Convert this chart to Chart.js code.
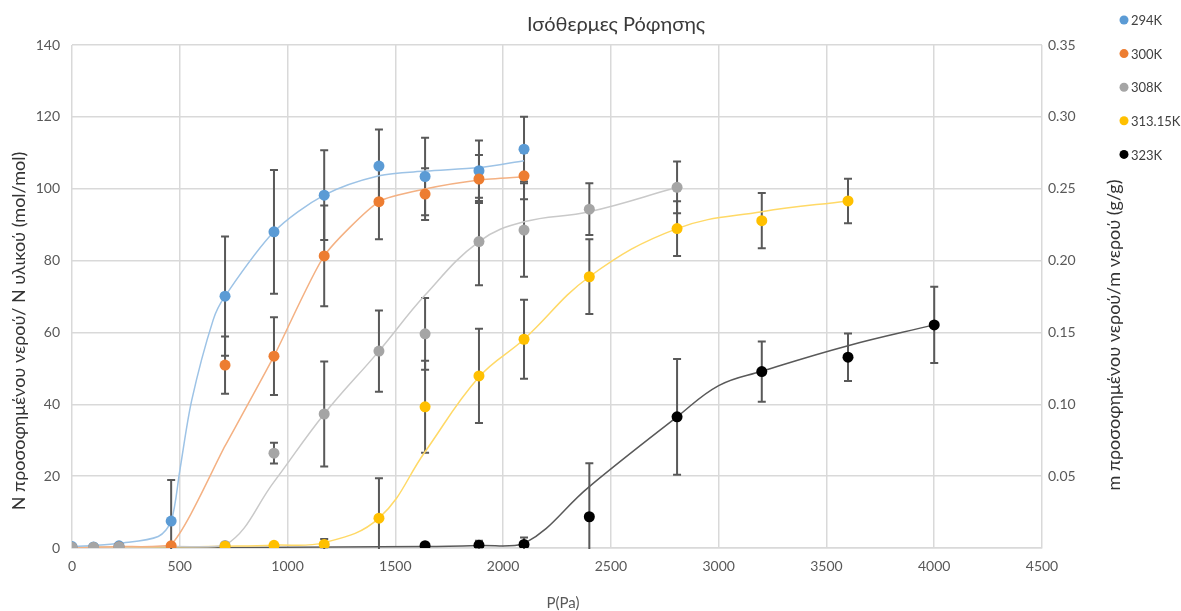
<!DOCTYPE html>
<html>
<head>
<meta charset="utf-8">
<script src="https://cdn.jsdelivr.net/npm/chart.js@4"></script>
<style>
  body { margin: 0; background: #fff; }
</style>
</head>
<body>
<canvas id="chart" width="1181" height="611"></canvas>
<script>
// pressures (Pa) for each isotherm
const p294 = [0, 100, 218, 460, 710, 937, 1170, 1424, 1638, 1888, 2097];
const p300 = [0, 100, 218, 460, 710, 937, 1170, 1424, 1638, 1888, 2097];
const p308 = [0, 100, 218, 710, 937, 1170, 1424, 1638, 1888, 2097, 2400, 2807];
const p313 = [710, 937, 1170, 1424, 1638, 1888, 2097, 2400, 2807, 3200, 3600];
const p323 = [1638, 1888, 2097, 2400, 2807, 3200, 3600, 4000];

// measured uptake (mol/mol) and error (+/-)
const n294 = [0.4, 0.3, 0.6, 7.5, 70.1, 88.0, 98.2, 106.3, 103.4, 105.0, 111.0];
const e294 = [0, 0, 0, 11.4, 16.6, 17.2, 12.5, 10.2, 10.8, 8.4, 9.0];
const n300 = [0, 0, 0.3, 0.6, 50.9, 53.4, 81.3, 96.4, 98.5, 102.7, 103.6];
const e300 = [0, 0, 0, 0, 8.0, 10.8, 14.0, 10.5, 7.2, 6.7, 6.5];
const n308 = [0.2, 0.2, 0.3, 0.7, 26.4, 37.3, 54.8, 59.6, 85.3, 88.5, 94.3, 100.4];
const e308 = [0, 0, 0, 0, 2.9, 14.6, 11.3, 10.0, 12.2, 13.0, 7.2, 7.2];
const n313 = [0.5, 0.75, 1.0, 8.3, 39.3, 47.9, 58.1, 75.5, 88.9, 91.1, 96.6];
const e313 = [0, 0, 1.5, 11.1, 12.8, 13.1, 11.0, 10.4, 7.6, 7.7, 6.2];
const n323 = [0.65, 0.8, 1.0, 8.7, 36.5, 49.1, 53.1, 62.1];
const e323 = [0, 1.2, 1.9, 14.9, 16.1, 8.4, 6.6, 10.6];

// fitted isotherm curves
const fitP294 = [0, 100, 218, 400, 460, 500, 555, 655, 710, 937, 1170, 1424, 1638, 1888, 2097];
const fitN294 = [0.4, 0.7, 1.3, 3.2, 7.5, 21.5, 41, 63.5, 70.1, 88.0, 98.2, 103.6, 104.9, 105.9, 107.8];
const fitP300 = [0, 100, 218, 460, 710, 937, 1170, 1424, 1638, 1888, 2097];
const fitN300 = [0, 0.2, 0.4, 1.0, 28.4, 53.4, 81.3, 96.4, 99.9, 102.4, 103.3];
const fitP308 = [0, 100, 218, 460, 710, 937, 1170, 1424, 1638, 1888, 2097, 2400, 2807];
const fitN308 = [0.2, 0.2, 0.3, 0.4, 0.7, 18.4, 37.3, 54.8, 70.4, 85.3, 90.8, 93.6, 100.4];
const fitP313 = [0, 460, 710, 937, 1170, 1424, 1638, 1888, 2097, 2400, 2807, 3200, 3600];
const fitN313 = [0.2, 0.3, 0.5, 0.8, 1.5, 8.3, 26.8, 47.6, 58.1, 75.5, 88.9, 93.6, 96.6];
const fitP323 = [0, 1638, 1888, 2097, 2400, 2807, 3000, 3200, 3600, 4000];
const fitN323 = [0, 0.4, 0.7, 1.2, 17.1, 36.5, 45.2, 49.2, 56.3, 62.1];

const seriesNames = ['294K', '300K', '308K', '313.15K', '323K'];
const markerColors = ['#5B9BD5', '#ED7D31', '#A5A5A5', '#FFC000', '#000000'];
const fitColors = ['#9DC3E6', '#F4B183', '#C9C9C9', '#FFD966', '#595959'];

const FONT = 'Lato, "Noto Sans", sans-serif';

function pairs(xs, ys) {
  return xs.map((x, i) => ({ x: x, y: ys[i] }));
}

const points = [
  [p294, n294, e294],
  [p300, n300, e300],
  [p308, n308, e308],
  [p313, n313, e313],
  [p323, n323, e323]
];
const fits = [
  [fitP294, fitN294, 0.3],
  [fitP300, fitN300, 0.2],
  [fitP308, fitN308, 0.4],
  [fitP313, fitN313, 0.4],
  [fitP323, fitN323, 0.4]
];

const datasets = [];
fits.forEach((f, i) => {
  datasets.push({
    label: seriesNames[i] + ' fit',
    data: pairs(f[0], f[1]),
    showLine: true,
    borderColor: fitColors[i],
    borderWidth: 1.5,
    pointRadius: 0,
    tension: f[2],
    order: 10
  });
});
points.forEach((s, i) => {
  datasets.push({
    label: seriesNames[i],
    data: pairs(s[0], s[1]),
    errors: s[2],
    showLine: false,
    pointRadius: 5.5,
    pointBorderWidth: 0,
    backgroundColor: markerColors[i],
    borderColor: markerColors[i],
    order: 5 - i
  });
});

// vertical error bars with caps
const errorBars = {
  id: 'errorBars',
  beforeDatasetsDraw(chart) {
    const { ctx, chartArea, scales: { x, y } } = chart;
    ctx.save();
    ctx.beginPath();
    ctx.rect(chartArea.left, chartArea.top, chartArea.width, chartArea.height + 1);
    ctx.clip();
    ctx.strokeStyle = '#595959';
    ctx.lineWidth = 2;
    chart.data.datasets.forEach(ds => {
      if (!ds.errors) return;
      ds.data.forEach((pt, i) => {
        const e = ds.errors[i];
        if (!e) return;
        const px = x.getPixelForValue(pt.x);
        const top = y.getPixelForValue(pt.y + e);
        const bot = y.getPixelForValue(pt.y - e);
        ctx.beginPath();
        ctx.moveTo(px, top); ctx.lineTo(px, bot);
        ctx.moveTo(px - 4, top); ctx.lineTo(px + 4, top);
        ctx.moveTo(px - 4, bot); ctx.lineTo(px + 4, bot);
        ctx.stroke();
      });
    });
    ctx.restore();
  }
};

// title, axis titles and legend
const labels = {
  id: 'labels',
  afterDraw(chart) {
    const ctx = chart.ctx;
    ctx.save();
    ctx.textAlign = 'center';
    ctx.textBaseline = 'middle';

    ctx.fillStyle = '#3a3a3a';
    ctx.font = '20px ' + FONT;
    ctx.fillText('Ισόθερμες Ρόφησης', 616, 25);

    ctx.fillStyle = '#595959';
    ctx.font = '15px ' + FONT;
    ctx.fillText('P(Pa)', 563, 603);

    ctx.fillStyle = '#333333';
    ctx.font = '18px ' + FONT;
    ctx.save();
    ctx.translate(19, 331);
    ctx.rotate(-Math.PI / 2);
    ctx.fillText('N προσοφημένου νερού/ N υλικού (mol/mol)', 0, 0);
    ctx.restore();

    ctx.save();
    ctx.translate(1114, 335);
    ctx.rotate(-Math.PI / 2);
    ctx.fillText('m προσοφημένου νερού/m νερού (g/g)', 0, 0);
    ctx.restore();

    ctx.textAlign = 'left';
    ctx.font = '13px ' + FONT;
    seriesNames.forEach((name, i) => {
      const yy = 20 + i * 33.6;
      ctx.fillStyle = markerColors[i];
      ctx.beginPath();
      ctx.arc(1124, yy, 4.5, 0, Math.PI * 2);
      ctx.fill();
      ctx.fillStyle = '#404040';
      ctx.fillText(name, 1131, yy + 1);
    });
    ctx.restore();
  }
};

const tickFont = { family: FONT, size: 14 };

new Chart(document.getElementById('chart'), {
  type: 'scatter',
  data: { datasets: datasets },
  options: {
    responsive: false,
    animation: false,
    layout: { padding: { top: 45, right: 0, bottom: 0, left: 0 } },
    plugins: {
      legend: { display: false },
      title: { display: false },
      tooltip: { enabled: false }
    },
    scales: {
      x: {
        type: 'linear',
        min: 0,
        max: 4500,
        ticks: { stepSize: 500, color: '#595959', font: tickFont, padding: 10, callback: v => String(v) },
        grid: { color: '#D9D9D9', lineWidth: 1.5, drawTicks: false },
        border: { color: '#D9D9D9', width: 1.5 },
        afterFit(scale) { scale.height = 63; }
      },
      y: {
        position: 'left',
        min: 0,
        max: 140,
        ticks: { stepSize: 20, color: '#595959', font: tickFont, padding: 12 },
        grid: { color: '#D9D9D9', lineWidth: 1.5, drawTicks: false },
        border: { display: false },
        afterFit(scale) { scale.width = 72; }
      },
      y1: {
        position: 'right',
        min: 0,
        max: 0.35,
        ticks: {
          stepSize: 0.05,
          color: '#595959',
          font: tickFont,
          padding: 6,
          callback: v => (v === 0 ? '' : v.toFixed(2))
        },
        grid: { display: false, drawTicks: false },
        border: { display: false },
        afterFit(scale) { scale.width = 139; }
      }
    }
  },
  plugins: [errorBars, labels]
});
</script>
</body>
</html>
